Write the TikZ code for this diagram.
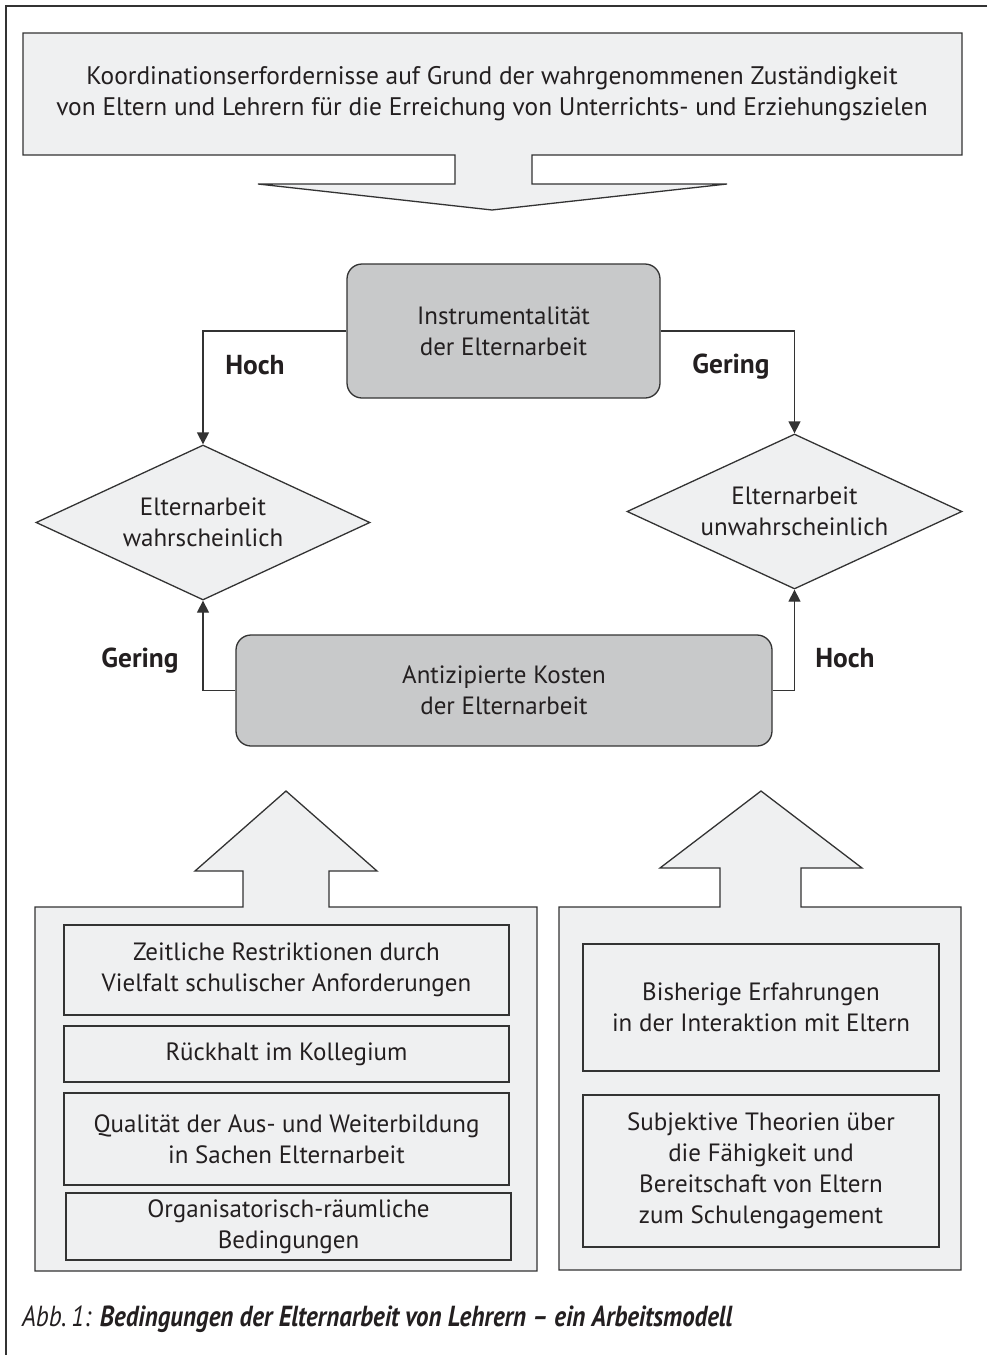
\documentclass[tikz,border=0pt]{standalone}
\usepackage{fontspec}
\setmainfont{PT Sans}
\newfontfamily\capfont[FakeStretch=0.86]{PT Sans}
\usetikzlibrary{shapes.geometric,arrows.meta}
\definecolor{lightfill}{HTML}{EFF0F1}
\definecolor{midfill}{HTML}{C8C9CA}
\definecolor{linegray}{HTML}{333333}
\definecolor{textblack}{HTML}{231F20}
\begin{document}
\begin{tikzpicture}[x=0.5pt,y=-0.5pt,
  font=\fontsize{12.5}{15.5}\selectfont, text=textblack,
  shapeline/.style={draw=linegray,line width=0.65pt,fill=lightfill},
  roundbox/.style={draw=linegray,line width=0.65pt,fill=midfill,rounded corners=7.5pt,align=center},
  decision/.style={diamond,draw=linegray,line width=0.65pt,fill=lightfill,shape aspect=2,inner sep=0pt,align=center},
  factorbox/.style={draw=linegray,line width=0.65pt,fill=lightfill,align=center,inner sep=0pt},
  conn/.style={draw=linegray,line width=0.65pt,-{Triangle[length=6pt,width=6pt]}},
  rating/.style={font=\fontsize{13.7}{16}\selectfont\bfseries}]
\useasboundingbox (0,0) rectangle (987,1355);
%\draw[step=50,gray,very thin] (0,0) grid (987,1355);
\draw[linegray,line width=0.65pt] (987,6) -- (6,6) -- (6,1355);
% top box with arrow
\path[shapeline] (23,33) -- (962,33) -- (962,155) -- (532,155) -- (532,184) -- (727,184)
  -- (492,210) -- (258,184) -- (455,184) -- (455,155) -- (23,155) -- cycle;
\node[align=center,font=\fontsize{12.7}{15.5}\selectfont] (coord) at (492,94) {Koordinationserfordernisse auf Grund der wahrgenommenen Zuständigkeit\\von Eltern und Lehrern für die Erreichung von Unterrichts- und Erziehungszielen};
% middle part
\node[roundbox,minimum width=156.5pt,minimum height=67pt] (instr) at (503.5,331) {Instrumentalität\\der Elternarbeit};
\node[decision,minimum width=167pt,minimum height=77.5pt] (wahr) at (203,522.5) {Elternarbeit\\wahrscheinlich};
\node[decision,minimum width=167.5pt,minimum height=77.5pt] (unwahr) at (794.5,511.5) {Elternarbeit\\unwahrscheinlich};
\node[roundbox,minimum width=268pt,minimum height=55.5pt] (kosten) at (504,690.5) {Antizipierte Kosten\\der Elternarbeit};
\draw[conn] (instr.west) -| (wahr.north);
\draw[conn] (instr.east) -| (unwahr.north);
\draw[conn] (kosten.west) -| (wahr.south);
\draw[conn] (kosten.east) -| (unwahr.south);
\node[rating] (hochA) at (255,365) {Hoch};
\node[rating] (geringA) at (731,367) {Gering};
\node[rating] (geringB) at (140,661) {Gering};
\node[rating] (hochB) at (845,658) {Hoch};
% left panel
\path[shapeline] (35,907) -- (243,907) -- (243,871) -- (195,871) -- (286,791) -- (377,871)
  -- (329,871) -- (329,907) -- (537,907) -- (537,1271) -- (35,1271) -- cycle;
\node[factorbox,minimum width=222.5pt,minimum height=45pt] (zeit) at (286.5,970) {Zeitliche Restriktionen durch\\Vielfalt schulischer Anforderungen};
\node[factorbox,minimum width=222.5pt,minimum height=28pt] (rueck) at (286.5,1054) {Rückhalt im Kollegium};
\node[factorbox,minimum width=222.5pt,minimum height=46pt] (quali) at (286.5,1139) {Qualität der Aus- und Weiterbildung\\in Sachen Elternarbeit};
\node[factorbox,minimum width=222.5pt,minimum height=33.5pt] (orga) at (288.5,1226.5) {Organisatorisch-räumliche\\Bedingungen};
% right panel
\path[shapeline] (559,907) -- (720,907) -- (720,868) -- (660,868) -- (761,791) -- (862,868)
  -- (801,868) -- (801,907) -- (961,907) -- (961,1270) -- (559,1270) -- cycle;
\node[factorbox,minimum width=178pt,minimum height=63.5pt] (erfahr) at (761,1007.5) {Bisherige Erfahrungen\\in der Interaktion mit Eltern};
\node[factorbox,minimum width=178pt,minimum height=76pt] (theorie) at (761,1171) {Subjektive Theorien über\\die Fähigkeit und\\Bereitschaft von Eltern\\zum Schulengagement};
% caption
\node[anchor=west,font=\capfont\fontsize{14.5}{17}\selectfont] (caption) at (15,1319) {\itshape Abb.\,1: \bfseries Bedingungen der Elternarbeit von Lehrern – ein Arbeitsmodell};
\end{tikzpicture}
\end{document}
